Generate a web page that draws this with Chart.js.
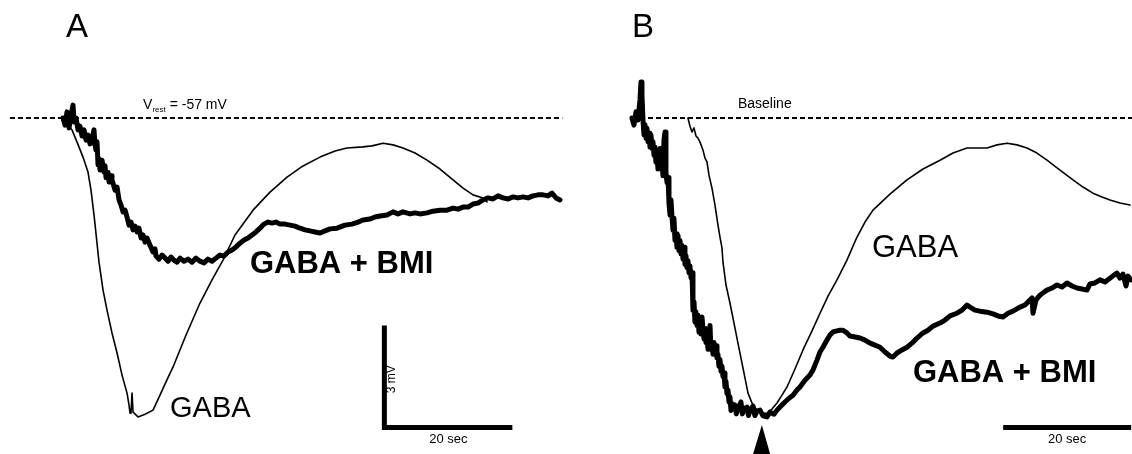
<!DOCTYPE html>
<html>
<head>
<meta charset="utf-8">
<script src="https://cdn.jsdelivr.net/npm/chart.js@4/dist/chart.umd.min.js"></script>
<style>
  body { margin: 0; background: #fff; }
  #wrap { display: flex; width: 1132px; height: 454px; }
  canvas { display: block; }
</style>
</head>
<body>
<div id="wrap">
  <canvas id="chartA" width="566" height="454"></canvas>
  <canvas id="chartB" width="566" height="454"></canvas>
</div>
<script>
// time in sec, voltage in mV relative to rest (0 = Vrest / baseline)

// panel A - GABA alone (thin)
var gabaA = [
  [-0.16,0],[0.47,-0.21],[1.09,-0.35],[1.88,-0.71],[2.81,-1.15],[3.59,-1.59],[4.06,-2.12],[4.53,-2.85],
  [5.31,-4.24],[5.94,-5.06],[6.56,-5.65],[7.34,-6.32],[8.13,-6.91],[8.91,-7.56],[9.69,-8.09],[10.0,-8.44],
  [10.16,-8.68],[10.31,-8.68],[10.47,-8.09],[10.63,-8.65],[11.41,-8.79],[12.5,-8.71],[13.75,-8.59],
  [14.84,-8.15],[15.78,-7.76],[16.88,-7.32],[18.91,-6.38],[21.09,-5.44],[22.97,-4.76],[24.69,-4.18],
  [26.56,-3.44],[29.38,-2.71],[32.03,-2.18],[34.69,-1.74],[37.19,-1.41],[39.84,-1.15],[42.19,-0.97],
  [44.06,-0.88],[46.56,-0.85],[47.97,-0.82],[49.69,-0.74],[51.25,-0.79],[52.81,-0.88],[54.69,-1.03],
  [56.56,-1.24],[58.59,-1.5],[60.63,-1.82],[62.19,-2.06],[63.75,-2.26],[65.31,-2.35],[65.94,-2.47]
];

// panel A - GABA + BMI (thick)
var bmiA = [
  [-0.31,0],[0,-0.21],[0.31,0.18],[0.63,-0.29],[0.94,0.09],[1.25,0.38],[1.41,-0.12],[1.72,0],
  [2.03,-0.35],[2.34,-0.24],[2.66,-0.53],[2.97,-0.35],[3.28,-0.65],[3.59,-0.5],[3.91,-0.76],[4.22,-0.59],
  [4.53,-0.35],[4.69,-0.8],[4.84,-0.94],[5.0,-0.7],[5.16,-1.38],[5.31,-1.2],[5.47,-1.53],[5.78,-1.24],
  [6.09,-1.59],[6.25,-1.4],[6.41,-1.76],[6.72,-1.6],[6.88,-1.88],[7.19,-1.7],[7.34,-1.82],[7.81,-2.12],
  [8.13,-2.03],[8.44,-2.41],[8.75,-2.56],[9.06,-2.76],[9.38,-2.71],[9.69,-2.91],[10.0,-3.15],[10.31,-3.06],
  [10.63,-3.29],[10.94,-3.18],[11.25,-3.35],[11.56,-3.24],[11.88,-3.53],[12.19,-3.44],[12.5,-3.65],
  [12.81,-3.53],[13.28,-3.74],[13.75,-3.94],[14.06,-3.85],[14.22,-4.06],[14.69,-4.15],[15.16,-4.03],
  [15.63,-4.12],[16.09,-4.21],[16.56,-4.09],[17.03,-4.18],[17.5,-4.24],[17.97,-4.12],[18.59,-4.21],
  [19.22,-4.15],[19.84,-4.24],[20.47,-4.12],[21.09,-4.21],[21.72,-4.26],[22.34,-4.15],[22.97,-4.21],
  [23.59,-4.12],[24.22,-4.03],[24.84,-4.06],[25.47,-3.94],[26.09,-3.88],[26.72,-3.79],[27.34,-3.68],
  [27.97,-3.59],[28.59,-3.53],[29.22,-3.44],[29.84,-3.35],[30.47,-3.24],[31.09,-3.12],[31.72,-3.06],
  [32.34,-3.09],[32.97,-3.06],[33.59,-3.12],[34.38,-3.12],[35.16,-3.15],[35.94,-3.18],[36.72,-3.24],
  [37.5,-3.29],[38.28,-3.32],[39.06,-3.35],[39.84,-3.38],[40.63,-3.32],[41.41,-3.26],[42.5,-3.24],
  [43.75,-3.15],[44.84,-3.12],[45.78,-3.06],[46.56,-3.0],[47.66,-2.97],[48.44,-2.91],[49.22,-2.88],
  [50.31,-2.85],[51.25,-2.76],[52.03,-2.82],[52.81,-2.76],[53.91,-2.82],[54.69,-2.79],[55.47,-2.82],
  [56.56,-2.79],[57.5,-2.74],[58.59,-2.71],[59.69,-2.71],[60.63,-2.65],[61.41,-2.68],[62.19,-2.62],
  [62.97,-2.62],[63.75,-2.53],[64.53,-2.5],[65.31,-2.41],[66.09,-2.35],[66.88,-2.38],[67.66,-2.29],
  [68.44,-2.35],[69.22,-2.38],[70.0,-2.32],[70.78,-2.35],[71.56,-2.32],[72.34,-2.35],[73.13,-2.29],
  [73.91,-2.26],[74.69,-2.26],[75.47,-2.29],[76.09,-2.21],[76.72,-2.35],[77.34,-2.41]
];

// panel B - GABA alone (thin)
var gabaB = [
  [8.75,0],[9.06,-0.24],[9.38,-0.41],[9.69,-0.29],[10.0,-0.53],[10.31,-0.59],[10.63,-0.71],[11.09,-0.94],
  [11.41,-1.18],[11.72,-1.29],[12.03,-1.68],[12.5,-2.06],[12.97,-2.56],[13.44,-3.15],[13.75,-3.5],
  [14.06,-3.82],[14.22,-4.24],[14.69,-4.91],[15.31,-5.44],[15.94,-6.03],[16.56,-6.62],[17.34,-7.35],
  [18.13,-8.09],[18.75,-8.38],[19.53,-8.59],[20.31,-8.68],[21.09,-8.68],[21.88,-8.56],[22.66,-8.38],
  [23.44,-8.15],[24.22,-7.91],[25.47,-7.38],[26.72,-6.82],[28.13,-6.26],[29.38,-5.74],[30.63,-5.24],
  [32.03,-4.76],[33.59,-4.18],[35.16,-3.5],[36.41,-3.06],[37.66,-2.71],[40.31,-2.24],[42.97,-1.82],
  [45.47,-1.5],[48.13,-1.24],[50.16,-1.03],[52.34,-0.88],[53.91,-0.88],[55.47,-0.88],[57.03,-0.79],
  [58.59,-0.74],[60.16,-0.79],[61.72,-0.88],[63.28,-1.03],[64.84,-1.24],[66.88,-1.53],[68.91,-1.82],
  [70.47,-2.03],[72.03,-2.21],[73.44,-2.32],[74.69,-2.41],[76.25,-2.5],[77.81,-2.56]
];

// panel B - GABA + BMI (thick)
var bmiB = [
  [0,0],[0.31,-0.21],[0.63,0.18],[0.94,-0.06],[1.25,0.53],[1.41,1.06],[1.56,0.68],[1.72,-0.06],
  [1.88,-0.5],[2.03,-0.2],[2.19,-0.6],[2.34,-0.3],[2.5,-0.7],[2.66,-0.45],[2.81,-0.85],[2.97,-0.5],
  [3.13,-0.9],[3.28,-0.7],[3.44,-1.1],[3.59,-0.85],[3.75,-1.3],[3.91,-1.1],[4.06,-1.5],[4.22,-1.2],
  [4.38,-0.9],[4.53,-1.5],[4.69,-1.3],[4.84,-1.7],[5.0,-0.65],[5.16,-0.41],[5.31,-1.6],[5.47,-1.9],
  [5.63,-1.75],[5.78,-2.5],[5.94,-2.85],[6.09,-2.4],[6.25,-2.9],[6.41,-3.3],[6.56,-2.95],[6.72,-3.6],
  [6.88,-3.4],[7.03,-3.8],[7.19,-3.45],[7.34,-3.9],[7.5,-3.6],[7.66,-4.0],[7.81,-3.75],[7.97,-4.15],
  [8.13,-3.8],[8.28,-4.3],[8.44,-4.05],[8.59,-4.4],[8.75,-4.2],[8.91,-4.55],[9.06,-4.35],[9.22,-4.7],
  [9.38,-4.55],[9.53,-5.65],[9.69,-5.4],[9.84,-6.0],[10.0,-5.7],[10.16,-6.1],[10.31,-5.8],[10.47,-6.3],
  [10.63,-6.0],[10.78,-6.35],[10.94,-5.85],[11.09,-6.2],[11.25,-6.5],[11.41,-6.2],[11.56,-6.6],
  [11.72,-6.4],[11.88,-6.8],[12.03,-6.5],[12.19,-6.1],[12.34,-6.8],[12.5,-6.6],[12.66,-6.95],
  [12.81,-6.6],[12.97,-6.9],[13.13,-6.7],[13.28,-7.05],[13.44,-6.95],[13.59,-7.3],[13.75,-7.1],
  [13.91,-7.45],[14.06,-7.3],[14.22,-7.6],[14.38,-7.5],[14.53,-7.9],[14.69,-7.75],[14.84,-8.1],
  [15.0,-8.0],[15.16,-8.35],[15.31,-8.2],[15.47,-8.6],[15.63,-8.4],[16.09,-8.44],[16.31,-8.7],
  [16.56,-8.55],[17.03,-8.35],[17.25,-8.7],[17.5,-8.55],[17.97,-8.5],[18.2,-8.75],[18.44,-8.6],
  [18.91,-8.47],[19.2,-8.75],[19.53,-8.62],[20.0,-8.59],[20.47,-8.76],[21.09,-8.79],[21.56,-8.65],
  [22.19,-8.71],[22.66,-8.59],[23.28,-8.47],[23.91,-8.35],[24.53,-8.24],[25.16,-8.15],[25.78,-8.0],
  [26.25,-7.91],[27.03,-7.71],[27.81,-7.56],[28.28,-7.41],[28.91,-7.12],[29.38,-6.88],[29.84,-6.74],
  [30.47,-6.53],[30.94,-6.38],[31.41,-6.29],[32.03,-6.26],[32.5,-6.24],[32.97,-6.24],[33.59,-6.32],
  [34.06,-6.41],[34.84,-6.44],[35.63,-6.47],[36.41,-6.53],[37.19,-6.62],[37.97,-6.68],[38.75,-6.74],
  [39.53,-6.88],[40.31,-7.0],[40.78,-7.03],[41.41,-6.91],[42.19,-6.82],[42.97,-6.74],[43.75,-6.62],
  [44.53,-6.47],[45.47,-6.32],[46.25,-6.24],[47.03,-6.12],[48.13,-6.03],[48.91,-5.94],[49.69,-5.82],
  [50.78,-5.74],[51.56,-5.65],[52.34,-5.5],[52.81,-5.56],[53.59,-5.65],[54.38,-5.68],[55.47,-5.71],
  [56.41,-5.76],[57.19,-5.82],[57.97,-5.85],[58.75,-5.74],[59.53,-5.68],[60.63,-5.56],[61.41,-5.5],
  [62.19,-5.35],[62.5,-5.29],[62.66,-5.74],[63.13,-5.35],[63.75,-5.21],[64.38,-5.12],[64.84,-5.06],
  [65.63,-5.0],[66.41,-4.91],[67.19,-4.97],[67.97,-4.85],[68.75,-4.94],[69.53,-5.0],[70.31,-5.03],
  [71.09,-5.06],[71.56,-4.88],[72.34,-4.85],[73.13,-4.76],[73.91,-4.82],[74.69,-4.71],[75.31,-4.62],
  [75.78,-4.56],[76.25,-4.71],[76.72,-4.59],[77.19,-4.94],[77.5,-4.65],[77.97,-4.76]
];

// rest / baseline level, scale bars, application marker
var baselineA = [[-8.6,0],[77.7,0]];
var baselineB = [[0,0],[78.5,0]];
var scaleBarA = [[49.9,-6.1],[49.9,-9.1],[69.9,-9.1]];   // 3 mV / 20 sec
var scaleBarB = [[58,-9.1],[78,-9.1]];                   // 20 sec
var arrowB = [[18.9,-9.89],[20.3,-9.03],[21.6,-9.89]];

var FONT = '"Liberation Sans", Arial, Helvetica, sans-serif';

// draws text labels at data positions + panel letter
var labelPlugin = {
  id: 'traceLabels',
  afterDatasetsDraw: function(chart, args, opts) {
    var ctx = chart.ctx;
    var xs = chart.scales.x, ys = chart.scales.y;
    ctx.save();
    ctx.fillStyle = '#000';
    ctx.font = '33px ' + FONT;
    ctx.textAlign = 'left';
    ctx.textBaseline = 'alphabetic';
    ctx.fillText(opts.letter, chart.chartArea.left + 66, chart.chartArea.top + 37);

    (opts.items || []).forEach(function(it) {
      var x = xs.getPixelForValue(it.at[0]);
      var y = ys.getPixelForValue(it.at[1]);
      ctx.save();
      ctx.font = it.font + ' ' + FONT;
      ctx.textAlign = it.align || 'left';
      ctx.textBaseline = it.baseline || 'alphabetic';
      ctx.translate(x, y);
      if (it.rotate) ctx.rotate(it.rotate);
      if (it.sub) {
        // V with "rest" subscript
        ctx.fillText(it.text, 0, 0);
        var w = ctx.measureText(it.text).width;
        ctx.font = it.subFont + ' ' + FONT;
        ctx.fillText(it.sub, w, 3);
        var w2 = ctx.measureText(it.sub).width;
        ctx.font = it.font + ' ' + FONT;
        ctx.fillText(it.after, w + w2, 0);
      } else {
        ctx.fillText(it.text, 0, 0);
      }
      ctx.restore();
    });
    ctx.restore();
  }
};

function traceSet(data, width) {
  return {
    data: data,
    borderColor: '#000',
    borderWidth: width,
    pointRadius: 0,
    tension: 0,
    fill: false,
    borderJoinStyle: 'round',
    borderCapStyle: 'round'
  };
}

function dashedSet(data) {
  return {
    data: data,
    borderColor: '#000',
    borderWidth: 2,
    borderDash: [5, 3],
    pointRadius: 0,
    fill: false
  };
}

function barSet(data) {
  return {
    data: data,
    borderColor: '#000',
    borderWidth: 5,
    pointRadius: 0,
    fill: false,
    borderJoinStyle: 'miter',
    borderCapStyle: 'butt'
  };
}

function makeOptions(xmin, xmax, letter, items) {
  return {
    responsive: false,
    animation: false,
    devicePixelRatio: 1,
    layout: { padding: 0 },
    scales: {
      x: { type: 'linear', min: xmin, max: xmax, display: false },
      y: { type: 'linear', min: -9.88, max: 3.47, display: false }
    },
    plugins: {
      legend: { display: false },
      tooltip: { enabled: false },
      traceLabels: { letter: letter, items: items }
    }
  };
}

new Chart(document.getElementById('chartA'), {
  type: 'line',
  data: {
    datasets: [
      dashedSet(baselineA),
      traceSet(gabaA, 1.6),
      traceSet(bmiA, 5),
      barSet(scaleBarA)
    ]
  },
  options: makeOptions(-10.16, 78.28, 'A', [
    { text: 'V', sub: 'rest', after: ' = -57 mV', at: [12.2, 0.26], font: '14px', subFont: '8px' },
    { text: 'GABA + BMI', at: [28.9, -4.56], font: 'bold 31px' },
    { text: 'GABA', at: [16.4, -8.79], font: '29px' },
    { text: '3 mV', at: [51.1, -7.68], font: '12px', align: 'center', baseline: 'middle', rotate: -Math.PI / 2 },
    { text: '20 sec', at: [59.9, -9.45], font: '13px', align: 'center', baseline: 'middle' }
  ]),
  plugins: [labelPlugin]
});

new Chart(document.getElementById('chartB'), {
  type: 'line',
  data: {
    datasets: [
      dashedSet(baselineB),
      traceSet(gabaB, 1.6),
      traceSet(bmiB, 5),
      barSet(scaleBarB),
      {
        data: arrowB,
        borderWidth: 0,
        borderColor: '#000',
        backgroundColor: '#000',
        pointRadius: 0,
        fill: 'start'
      }
    ]
  },
  options: makeOptions(-10.31, 78.13, 'B', [
    { text: 'Baseline', at: [16.56, 0.29], font: '14px' },
    { text: 'GABA', at: [37.5, -4.09], font: '31px' },
    { text: 'GABA + BMI', at: [43.9, -7.76], font: 'bold 31px' },
    { text: '20 sec', at: [68, -9.45], font: '13px', align: 'center', baseline: 'middle' }
  ]),
  plugins: [labelPlugin]
});
</script>
</body>
</html>
